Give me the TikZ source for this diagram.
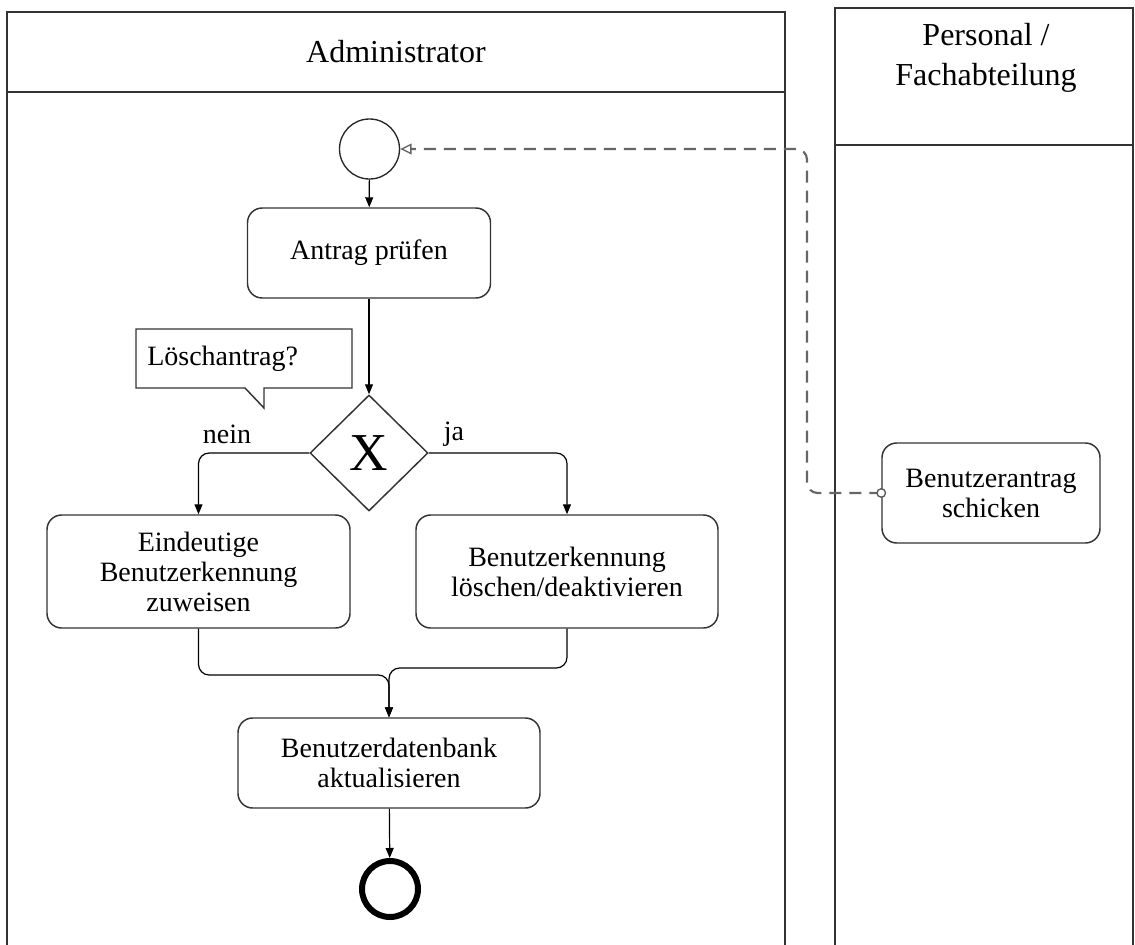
\documentclass[tikz,border=0pt]{standalone}
\usepackage{fontspec}
\setmainfont{Liberation Serif}
\usetikzlibrary{arrows.meta,shapes.geometric}
\begin{document}
\begin{tikzpicture}[x=0.75pt,y=-0.75pt,
  lane/.style={draw=black!80,line width=1.5pt},
  lanetitle/.style={align=center,font=\fontsize{24}{30}\selectfont},
  act/.style={draw=black!80,line width=1.1pt,rounded corners=11pt,align=center,
    inner sep=0pt,font=\fontsize{21}{22.5}\selectfont},
  flow/.style={draw=black,line width=0.9pt,rounded corners=8pt,
    -{Triangle[length=7.5pt,width=6pt]}},
  msg/.style={draw=black!60,line width=1.6pt,dash pattern=on 9pt off 6pt,
    rounded corners=8pt,-{Triangle[open,length=8.5pt,width=8pt,line width=1pt]}},
  lbl/.style={font=\fontsize{21}{22.5}\selectfont,inner sep=0pt},
]
\useasboundingbox (0,0) rectangle (1135,945);

% swimlanes
\draw[lane] (7,960) -- (7,12) -- (785,12) -- (785,960);
\draw[lane] (7,92) -- (785,92);
\node[lanetitle] (admtitle) at (396,52) {Administrator};
\draw[lane] (835,960) -- (835,8) -- (1133,8) -- (1133,960);
\draw[lane] (835,145) -- (1133,145);
\node[lanetitle] (perstitle) at (986,58) {Personal /\\Fachabteilung};

% start and end events
\node[circle,draw=black!85,line width=1pt,minimum size=45pt,inner sep=0pt] (start) at (369.5,149) {};
\node[circle,draw=black,line width=4.5pt,minimum size=42pt,inner sep=0pt] (end) at (390,889) {};

% activities
\node[act,minimum width=182.25pt,minimum height=67.5pt] (pruefen) at (369,253) {Antrag prüfen};
\node[diamond,draw=black!80,line width=1.1pt,minimum width=88.5pt,minimum height=87pt,
  inner sep=0pt,font=\fontsize{40}{40}\selectfont] (gw) at (369,453) {X};
\node[act,minimum width=227.25pt,minimum height=84.75pt] (zuweisen) at (198.5,571.5)
  {Eindeutige\\Benutzerkennung\\zuweisen};
\node[act,minimum width=226.5pt,minimum height=84.75pt] (loeschen) at (567,571.5)
  {Benutzerkennung\\löschen/deaktivieren};
\node[act,minimum width=226.5pt,minimum height=67.5pt] (db) at (389,763)
  {Benutzerdatenbank\\aktualisieren};
\node[act,minimum width=163.5pt,minimum height=75pt] (antrag) at (991,493)
  {Benutzerantrag\\schicken};

% annotation callout
\draw[draw=black!80,line width=1.1pt,fill=white]
  (136,329) -- (352,329) -- (352,388) -- (264,388) -- (264,408) -- (245,388)
  -- (136,388) -- cycle;
\node[lbl,anchor=west] (frage) at (147,359) {Löschantrag?};

% branch labels
\node[lbl] (nein) at (227,434) {nein};
\node[lbl] (ja) at (454,434) {ja};

% sequence flows
\coordinate (mleft) at (389,675);
\coordinate (mright) at (389,668);
\draw[flow] (start) -- (pruefen);
\draw[flow] (pruefen) -- (gw);
\draw[flow] (gw.west) -| (zuweisen.north);
\draw[flow] (gw.east) -| (loeschen.north);
\draw[flow] (zuweisen.south) |- (mleft) -- (db.north);
\draw[flow] (loeschen.south) |- (mright) -- (db.north);
\draw[flow] (db) -- (end);

% message flow between the lanes
\coordinate (mbend) at (807,300);
\draw[msg] (antrag.west) -| (mbend) |- (start.east);
\draw[draw=black!65,line width=1pt,fill=white] (antrag.west) circle (3.2pt);
\end{tikzpicture}
\end{document}
